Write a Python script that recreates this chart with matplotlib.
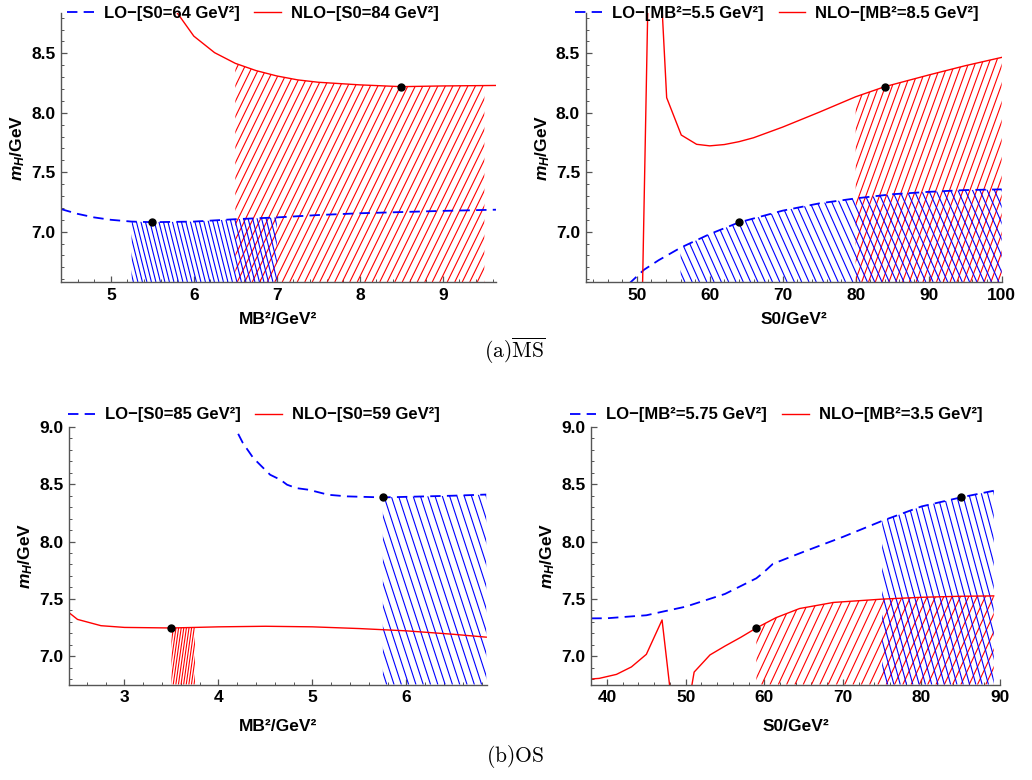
import numpy as np
import matplotlib
matplotlib.use('Agg')
import matplotlib.pyplot as plt
from matplotlib.collections import LineCollection
from matplotlib.ticker import MultipleLocator, FormatStrFormatter

plt.rcParams['font.family'] = ['Liberation Sans', 'DejaVu Sans']
plt.rcParams['font.weight'] = 'bold'
plt.rcParams['axes.labelweight'] = 'bold'
plt.rcParams['mathtext.fontset'] = 'custom'
plt.rcParams['mathtext.rm'] = 'Liberation Sans:bold'
plt.rcParams['mathtext.it'] = 'Liberation Sans:italic:bold'
plt.rcParams['mathtext.bf'] = 'Liberation Sans:bold'
plt.rcParams['lines.scale_dashes'] = False

RED = '#ff0000'
BLUE = '#0000ff'

# ---- (a) MS-bar, m_H vs MB^2 ----
a1_lo_x = [4.4, 4.6, 4.8, 5.0, 5.25, 5.5, 6.0, 6.5, 7.0, 7.5, 8.0, 8.5, 9.0, 9.64]
a1_lo_y = [7.19, 7.15, 7.12, 7.10, 7.085, 7.08, 7.085, 7.105, 7.12, 7.14, 7.155, 7.165, 7.175, 7.185]
a1_nlo_x = [5.76, 6.0, 6.25, 6.5, 6.75, 7.0, 7.25, 7.5, 8.0, 8.5, 9.0, 9.64]
a1_nlo_y = [8.88, 8.645, 8.506, 8.416, 8.355, 8.31, 8.277, 8.257, 8.235, 8.22, 8.226, 8.23]
a1_lo_band = (5.25, 7.0)
a1_nlo_band = (6.5, 9.5)
a1_lo_pt = (5.5, 7.08)
a1_nlo_pt = (8.5, 8.22)

# ---- (a) MS-bar, m_H vs S0 ----
a2_lo_x = [48.9, 51, 53, 56, 60, 64, 70, 75, 80, 85, 90, 95, 100]
a2_lo_y = [6.56, 6.68, 6.76, 6.865, 6.98, 7.078, 7.177, 7.238, 7.28, 7.315, 7.335, 7.35, 7.356]
a2_nlo_x = [50.78, 51.61, 53.2, 54.1, 56.1, 58.2, 60, 62, 64, 66, 68, 70, 72, 75, 80, 84, 90, 95, 100]
a2_nlo_y = [6.5, 9.2, 9.2, 8.127, 7.813, 7.735, 7.722, 7.733, 7.757, 7.79, 7.835, 7.88, 7.93, 8.005, 8.135, 8.22, 8.318, 8.396, 8.466]
a2_lo_band = (56, 100)
a2_nlo_band = (80, 100)
a2_lo_pt = (64, 7.078)
a2_nlo_pt = (84, 8.22)

# ---- (b) OS, m_H vs MB^2 ----
b1_lo_x = [4.21, 4.26, 4.37, 4.46, 4.55, 4.66, 4.73, 4.83, 4.96, 5.17, 5.37, 5.75, 6.0, 6.5, 6.85]
b1_lo_y = [8.94, 8.86, 8.73, 8.656, 8.583, 8.539, 8.496, 8.466, 8.452, 8.408, 8.394, 8.385, 8.39, 8.40, 8.41]
b1_nlo_x = [2.4, 2.5, 2.75, 3.0, 3.5, 4.0, 4.5, 5.0, 5.5, 6.0, 6.5, 6.85]
b1_nlo_y = [7.385, 7.32, 7.265, 7.25, 7.245, 7.255, 7.26, 7.255, 7.24, 7.22, 7.19, 7.165]
b1_lo_band = (5.75, 6.85)
b1_nlo_band = (3.5, 3.75)
b1_lo_pt = (5.75, 8.385)
b1_nlo_pt = (3.5, 7.245)

# ---- (b) OS, m_H vs S0 ----
b2_lo_x = [38, 40, 45, 47.1, 50, 55, 59, 59.9, 61.1, 65, 70, 75, 80, 85, 89.2]
b2_lo_y = [7.329, 7.33, 7.356, 7.388, 7.431, 7.542, 7.679, 7.729, 7.805, 7.91, 8.04, 8.18, 8.306, 8.385, 8.443]
b2_nlo_x = [38, 39, 41.2, 43.1, 45, 47, 48.2, np.nan, 50.68, 51.08, 53.1, 55, 57, 59, 61.5, 64.5, 68.8, 75, 80, 85, 89.2]
b2_nlo_y = [6.80, 6.805, 6.84, 6.905, 7.015, 7.315, 6.6, np.nan, 6.70, 6.86, 7.01, 7.087, 7.163, 7.245, 7.335, 7.415, 7.468, 7.497, 7.513, 7.522, 7.525]
b2_lo_band = (75, 89.2)
b2_nlo_band = (59, 89.2)
b2_lo_pt = (85, 8.385)
b2_nlo_pt = (59, 7.245)

fig = plt.figure(figsize=(10.32, 7.8), dpi=100)


def hatch_region(ax, x, y, band, color, angle, step, lw=0.8):
    x = np.asarray(x, float)
    y = np.asarray(y, float)
    ok = ~np.isnan(x)
    x, y = x[ok], y[ok]
    lo, hi = band
    xs = np.concatenate([[lo], x[(x > lo) & (x < hi)], [hi]])
    ys = np.interp(xs, x, y)
    ybot = ax.get_ylim()[0]
    poly = ax.fill_between(xs, ys, ybot, facecolor='none', edgecolor='none')
    bb = ax.get_window_extent()
    w, h = bb.width, bb.height
    dx = h / np.tan(np.radians(angle))
    starts = np.arange(-abs(dx) - step, w + abs(dx) + step, step)
    segs = [[(s / w, 0), ((s + dx) / w, 1)] for s in starts]
    lc = LineCollection(segs, colors=color, linewidths=lw, transform=ax.transAxes)
    lc.set_clip_path(poly.get_paths()[0], ax.transData)
    ax.add_collection(lc, autolim=False)


def panel(rect, lo_x, lo_y, nlo_x, nlo_y, lo_band, nlo_band, lo_pt, nlo_pt,
          xlim, ylim, xmaj, xmin, xlabel, lo_lab, nlo_lab, leg_xy, hatches, xpad):
    ax = fig.add_axes(rect)
    ax.set_xlim(*xlim)
    ax.set_ylim(*ylim)
    (ra, rs), (ba, bs) = hatches
    hatch_region(ax, nlo_x, nlo_y, nlo_band, RED, ra, rs)
    hatch_region(ax, lo_x, lo_y, lo_band, BLUE, ba, bs)
    l1, = ax.plot(lo_x, lo_y, color=BLUE, lw=1.3, dashes=(7.5, 4.5), label=lo_lab)
    l2, = ax.plot(nlo_x, nlo_y, color=RED, lw=1.0, label=nlo_lab)
    ax.plot([lo_pt[0], nlo_pt[0]], [lo_pt[1], nlo_pt[1]], 'o', color='black', ms=5, zorder=5)
    ax.set_xlim(*xlim)
    ax.set_ylim(*ylim)
    for s in ['top', 'right']:
        ax.spines[s].set_visible(False)
    for s in ['left', 'bottom']:
        ax.spines[s].set_color('#555555')
        ax.spines[s].set_linewidth(1.0)
    ax.xaxis.set_major_locator(MultipleLocator(xmaj))
    ax.xaxis.set_minor_locator(MultipleLocator(xmin))
    ax.yaxis.set_major_locator(MultipleLocator(0.5))
    ax.yaxis.set_minor_locator(MultipleLocator(0.1))
    ax.yaxis.set_major_formatter(FormatStrFormatter('%.1f'))
    ax.tick_params(which='both', direction='in', color='#555555', labelsize=12.5, pad=4)
    ax.tick_params(which='major', length=4, width=0.9)
    ax.tick_params(which='minor', length=2.2, width=0.7)
    ax.set_xlabel(xlabel, fontsize=12.5, labelpad=xpad)
    ax.set_ylabel(r'$m_H$/GeV', fontsize=12.5, labelpad=3)
    ax.legend(handles=[l1, l2], loc='center', bbox_to_anchor=leg_xy,
              bbox_transform=fig.transFigure, ncol=2, frameon=False, fontsize=12,
              handlelength=1.6, handletextpad=0.6, columnspacing=0.9,
              borderaxespad=0, borderpad=0)
    return ax


panel([0.0591, 0.6385, 0.4215, 0.3449], a1_lo_x, a1_lo_y, a1_nlo_x, a1_nlo_y,
      a1_lo_band, a1_nlo_band, a1_lo_pt, a1_nlo_pt, (4.4, 9.64), (6.577, 8.84),
      1, 0.2, 'MB²/GeV²', 'LO−[S0=64 GeV²]', 'NLO−[S0=84 GeV²]', (0.245, 0.9833),
      ((64, 7.5), (104, 4.5)), 7)

panel([0.5675, 0.6385, 0.4031, 0.3449], a2_lo_x, a2_lo_y, a2_nlo_x, a2_nlo_y,
      a2_lo_band, a2_nlo_band, a2_lo_pt, a2_nlo_pt, (43, 100), (6.577, 8.84),
      10, 2, 'S0/GeV²', 'LO−[MB²=5.5 GeV²]', 'NLO−[MB²=8.5 GeV²]', (0.753, 0.9833),
      ((70, 6.8), (114, 7.3)), 7)

panel([0.0669, 0.1222, 0.4047, 0.3304], b1_lo_x, b1_lo_y, b1_nlo_x, b1_nlo_y,
      b1_lo_band, b1_nlo_band, b1_lo_pt, b1_nlo_pt, (2.41, 6.855), (6.75, 9.0),
      1, 0.2, 'MB²/GeV²', 'LO−[S0=85 GeV²]', 'NLO−[S0=59 GeV²]', (0.246, 0.468),
      ((82, 2.6), (108, 7.3)), 10)

panel([0.5730, 0.1222, 0.3960, 0.3304], b2_lo_x, b2_lo_y, b2_nlo_x, b2_nlo_y,
      b2_lo_band, b2_nlo_band, b2_lo_pt, b2_nlo_pt, (38, 90), (6.75, 9.0),
      10, 2, 'S0/GeV²', 'LO−[MB²=5.75 GeV²]', 'NLO−[MB²=3.5 GeV²]', (0.752, 0.468),
      ((65, 8.3), (105, 6.3)), 10)

fig.text(0.499, 1 - 351 / 780, r'$\mathrm{(a)}\overline{\mathrm{MS}}$', ha='center', va='center',
         fontsize=15.5, math_fontfamily='cm')
fig.text(0.499, 1 - 757 / 780, r'$\mathrm{(b)OS}$', ha='center', va='center',
         fontsize=15.5, math_fontfamily='cm')

fig.savefig('out.png', dpi=100)
